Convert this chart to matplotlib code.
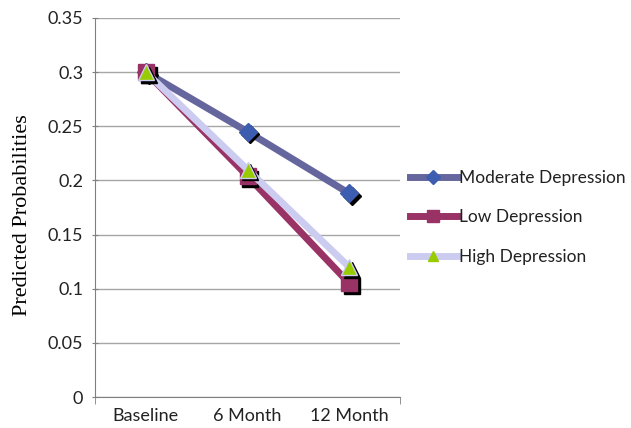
import matplotlib
matplotlib.use("Agg")
import matplotlib.pyplot as plt
from matplotlib.transforms import ScaledTranslation
from matplotlib.lines import Line2D

categories = ["Baseline", "6 Month", "12 Month"]
moderate = [0.300, 0.245, 0.188]
low = [0.300, 0.204, 0.105]
high = [0.300, 0.210, 0.120]
yticks = [0, 0.05, 0.1, 0.15, 0.2, 0.25, 0.3, 0.35]
ytick_labels = ["0", "0.05", "0.1", "0.15", "0.2", "0.25", "0.3", "0.35"]

font = "Lato"
fig = plt.figure(figsize=(6.31, 4.28), dpi=100)
ax = fig.add_axes([0.1506, 0.0724, 0.4834, 0.8856])

x = list(range(len(categories)))
series = [
    ("Moderate Depression", moderate, "#66669E", "#3D5DB0", "D", 9),
    ("Low Depression", low, "#993366", "#993366", "s", 11),
    ("High Depression", high, "#CCCCF0", "#99CC00", "^", 11),
]
shadow = ax.transData + ScaledTranslation(2 / 72, -2 / 72, fig.dpi_scale_trans)
for i, (name, vals, lc, mc, mk, ms) in enumerate(series):
    z = 3 + i
    ax.plot(x, vals, color=lc, lw=5, zorder=z, solid_capstyle="butt")
    ax.plot(x, vals, linestyle="none", marker=mk, ms=ms, color="black",
            transform=shadow, zorder=z)
    ax.plot(x, vals, linestyle="none", marker=mk, ms=ms, color=mc,
            markeredgecolor=lc if i == 2 else mc, mew=1, zorder=z + 0.1)

ax.set_xlim(-0.5, 2.5)
ax.set_ylim(0, 0.35)
ax.set_yticks(yticks)
ax.set_yticklabels(ytick_labels, fontfamily=font, fontsize=13, color="#222222")
ax.set_xticks(x)
ax.set_xticklabels(categories, fontfamily=font, fontsize=13, color="#222222")
ax.tick_params(axis="x", length=0, pad=8)
ax.set_xticks([-0.5, 2.5], minor=True)
ax.tick_params(axis="x", which="minor", length=5, color="#808080", direction="out")
ax.tick_params(axis="y", length=5, color="#808080", direction="inout", pad=6)
ax.yaxis.grid(True, color="#A6A6A6", lw=1)
ax.set_axisbelow(True)
for s in ["top", "right"]:
    ax.spines[s].set_visible(False)
for s in ["left", "bottom"]:
    ax.spines[s].set_color("#808080")
ax.set_ylabel("Predicted Probabilities", fontfamily="Liberation Serif", fontsize=16)
ax.yaxis.set_label_coords(-0.205, 0.48)

handles = []
for name, vals, lc, mc, mk, ms in series:
    handles.append(Line2D([0], [0], color=lc, lw=5, marker=mk,
                          ms={"D": 7, "s": 9, "^": 7}[mk], markerfacecolor=mc,
                          markeredgecolor=mc))
leg = fig.legend(handles, [s[0] for s in series], loc="center left",
                 bbox_to_anchor=(0.625, 0.492), frameon=False,
                 prop={"family": font, "size": 12.5}, handlelength=2.7,
                 handletextpad=0.15, labelspacing=1.35)
for t in leg.get_texts():
    t.set_color("#222222")

fig.savefig("out.png", dpi=100)
